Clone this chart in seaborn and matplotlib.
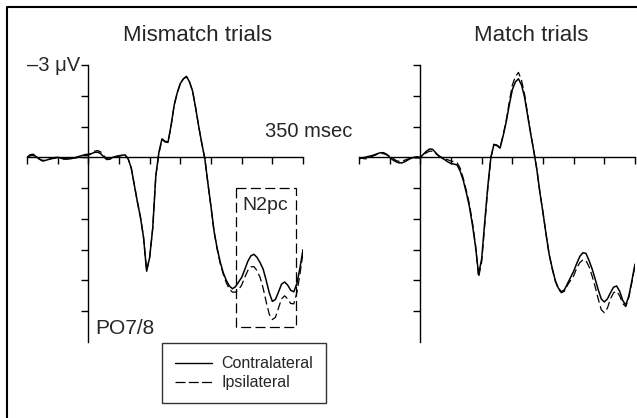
import numpy as np
import pandas as pd
import matplotlib
matplotlib.use('Agg')
import matplotlib.pyplot as plt
import seaborn as sns
from matplotlib.lines import Line2D
from matplotlib.patches import Rectangle

# time axis (msec), sampled every 5 ms
time_ms = np.arange(-100, 351, 5)

# amplitudes in microvolts (positive = down in the plot)
mismatch_contra = [
    0.00, -0.08, -0.10, -0.02, 0.05, 0.10, 0.10, 0.07, 0.03, 0.01,
    0.00, 0.02, 0.04, 0.05, 0.05, 0.03, 0.00, -0.03, -0.06, -0.09,
    -0.10, -0.12, -0.16, -0.17, -0.12, -0.02, 0.07, 0.06, 0.00, -0.03,
    -0.05, -0.07, -0.08, 0.05, 0.35, 0.90, 1.45, 1.95, 2.60, 3.70,
    3.25, 2.30, 0.60, -0.15, -0.60, -0.52, -0.50, -1.05, -1.70, -2.10,
    -2.40, -2.55, -2.63, -2.45, -2.15, -1.60, -1.00, -0.45, 0.05, 0.85,
    1.60, 2.40, 2.95, 3.40, 3.75, 4.00, 4.18, 4.27, 4.20, 4.05,
    3.90, 3.65, 3.38, 3.20, 3.15, 3.25, 3.42, 3.63, 4.00, 4.40,
    4.68, 4.62, 4.38, 4.12, 4.05, 4.15, 4.32, 4.37, 4.10, 3.60,
    3.00]
mismatch_ipsi = [
    0.00, -0.05, -0.06, 0.00, 0.06, 0.12, 0.11, 0.07, 0.05, 0.03,
    0.02, 0.03, 0.06, 0.06, 0.04, 0.02, 0.02, -0.01, -0.04, -0.06,
    -0.06, -0.12, -0.20, -0.22, -0.18, -0.06, 0.05, 0.06, 0.02, -0.02,
    -0.04, -0.06, -0.07, 0.05, 0.35, 0.90, 1.45, 1.95, 2.60, 3.68,
    3.25, 2.30, 0.62, -0.12, -0.58, -0.50, -0.48, -1.03, -1.70, -2.10,
    -2.40, -2.55, -2.62, -2.45, -2.15, -1.60, -1.00, -0.45, 0.05, 0.85,
    1.62, 2.42, 2.98, 3.45, 3.80, 4.08, 4.28, 4.38, 4.38, 4.30,
    4.15, 3.90, 3.68, 3.56, 3.55, 3.68, 3.90, 4.25, 4.70, 5.10,
    5.27, 5.20, 4.90, 4.60, 4.50, 4.60, 4.75, 4.76, 4.40, 3.80,
    3.10]
match_contra = [
    0.05, 0.02, 0.00, -0.03, -0.05, -0.08, -0.12, -0.15, -0.15, -0.10,
    0.00, 0.08, 0.14, 0.18, 0.18, 0.14, 0.08, 0.03, 0.00, -0.02,
    0.00, -0.10, -0.20, -0.27, -0.26, -0.15, -0.05, 0.02, 0.08, 0.15,
    0.20, 0.22, 0.25, 0.45, 0.75, 1.15, 1.60, 2.20, 2.90, 3.80,
    3.30, 2.10, 0.95, 0.00, -0.42, -0.38, -0.30, -0.70, -1.15, -1.70,
    -2.20, -2.45, -2.55, -2.35, -1.95, -1.35, -0.75, -0.20, 0.40, 1.15,
    1.80, 2.50, 3.15, 3.60, 4.00, 4.25, 4.37, 4.30, 4.10, 3.90,
    3.70, 3.45, 3.22, 3.10, 3.12, 3.35, 3.62, 3.95, 4.30, 4.60,
    4.70, 4.60, 4.40, 4.22, 4.18, 4.35, 4.65, 4.80, 4.50, 4.00,
    3.47]
match_ipsi = [
    0.00, 0.03, 0.05, 0.03, -0.02, -0.06, -0.10, -0.12, -0.12, -0.08,
    -0.05, 0.02, 0.10, 0.13, 0.12, 0.09, 0.05, 0.03, 0.02, 0.02,
    0.02, -0.08, -0.15, -0.20, -0.20, -0.12, -0.05, 0.00, 0.05, 0.08,
    0.12, 0.14, 0.18, 0.35, 0.68, 1.08, 1.52, 2.12, 2.85, 3.90,
    3.40, 2.20, 1.00, 0.02, -0.42, -0.40, -0.32, -0.72, -1.20, -1.80,
    -2.35, -2.62, -2.76, -2.50, -2.05, -1.40, -0.78, -0.22, 0.40, 1.15,
    1.80, 2.50, 3.15, 3.62, 4.02, 4.28, 4.40, 4.35, 4.15, 4.00,
    3.85, 3.60, 3.42, 3.33, 3.35, 3.55, 3.85, 4.20, 4.60, 4.95,
    5.05, 4.90, 4.60, 4.40, 4.35, 4.50, 4.75, 4.85, 4.55, 4.05,
    3.50]

x_ticks = [-100, -50, 0, 50, 100, 150, 200, 250, 300, 350]
y_ticks = [-3, -2, -1, 0, 1, 2, 3, 4, 5]
n2pc_window = (240, 338)     # msec
n2pc_range = (1.0, 5.5)      # microvolts

sns.set_style('white')
plt.rcParams['font.family'] = ['Liberation Sans', 'DejaVu Sans']


def make_df(contra, ipsi):
    return pd.DataFrame({
        'time': np.concatenate([time_ms, time_ms]),
        'amp': contra + ipsi,
        'wave': ['Contralateral'] * len(contra) + ['Ipsilateral'] * len(ipsi)})


def style_axes(ax):
    ax.set_xlim(-100, 350)
    ax.set_ylim(6, -3)
    for side in ['top', 'right']:
        ax.spines[side].set_visible(False)
    ax.spines['left'].set_position(('data', 0))
    ax.spines['bottom'].set_position(('data', 0))
    for side in ['left', 'bottom']:
        ax.spines[side].set_color('black')
        ax.spines[side].set_linewidth(1.0)
        ax.spines[side].set_zorder(1)
    ax.set_xticks(x_ticks)
    ax.set_yticks(y_ticks)
    ax.tick_params(axis='both', direction='out', length=5, width=1.0,
                   color='black', labelbottom=False, labelleft=False,
                   bottom=True, left=True)
    ax.set_xlabel('')
    ax.set_ylabel('')
    ax.patch.set_alpha(0)


fig = plt.figure(figsize=(6.37, 4.18), dpi=100)
ax1 = fig.add_axes([27 / 637, 76 / 418, 276 / 637, 277 / 418])
ax2 = fig.add_axes([359 / 637, 76 / 418, 276 / 637, 277 / 418])

dash_map = {'Contralateral': '', 'Ipsilateral': (6.5, 3)}
for ax, contra, ipsi in [(ax1, mismatch_contra, mismatch_ipsi),
                         (ax2, match_contra, match_ipsi)]:
    df = make_df(contra, ipsi)
    sns.lineplot(data=df, x='time', y='amp', style='wave', dashes=dash_map,
                 color='black', estimator=None, sort=False, legend=False,
                 ax=ax, zorder=3)
    for ln in ax.get_lines():
        ln.set_linewidth(1.1 if ln.get_linestyle() == '-' else 0.9)
    style_axes(ax)

# N2pc window
ax1.add_patch(Rectangle((n2pc_window[0], n2pc_range[0]),
                        n2pc_window[1] - n2pc_window[0],
                        n2pc_range[1] - n2pc_range[0],
                        fill=False, edgecolor='black', linewidth=0.9,
                        linestyle=(0, (8, 3.5)), zorder=2))
ax1.text(288, 1.55, 'N2pc', fontsize=14, ha='center', va='center')
ax1.text(12, 5.75, 'PO7/8', fontsize=15, ha='left', va='baseline')
ax1.text(-13, -3, '\u20133 \u03bcV', fontsize=14.5, ha='right', va='center',
         clip_on=False)
ax1.text(430, -0.66, '350 msec', fontsize=14.5, ha='right', va='baseline',
         clip_on=False)

fig.text(197 / 637, 1 - 41 / 418, 'Mismatch trials', fontsize=16,
         ha='center', va='baseline')
fig.text(531.5 / 637, 1 - 41 / 418, 'Match trials', fontsize=16,
         ha='center', va='baseline')

handles = [Line2D([0], [0], color='black', lw=1.0),
           Line2D([0], [0], color='black', lw=0.9, dashes=(8, 2.6))]
leg = fig.legend(handles, ['Contralateral', 'Ipsilateral'], loc='lower left',
                 bbox_to_anchor=(162 / 637, 15 / 418), fontsize=11.5,
                 frameon=True, fancybox=False, edgecolor='black',
                 handlelength=2.3, handletextpad=0.6, labelspacing=0.25,
                 borderpad=0.8, borderaxespad=0)
leg.get_frame().set_linewidth(1.0)

# figure frame (top and left edges)
fig.add_artist(Line2D([7 / 637, 7 / 637, 1.0], [0.0, 1 - 7 / 418, 1 - 7 / 418],
                      transform=fig.transFigure, color='black', lw=1.5))

fig.savefig('out.png', dpi=100)
